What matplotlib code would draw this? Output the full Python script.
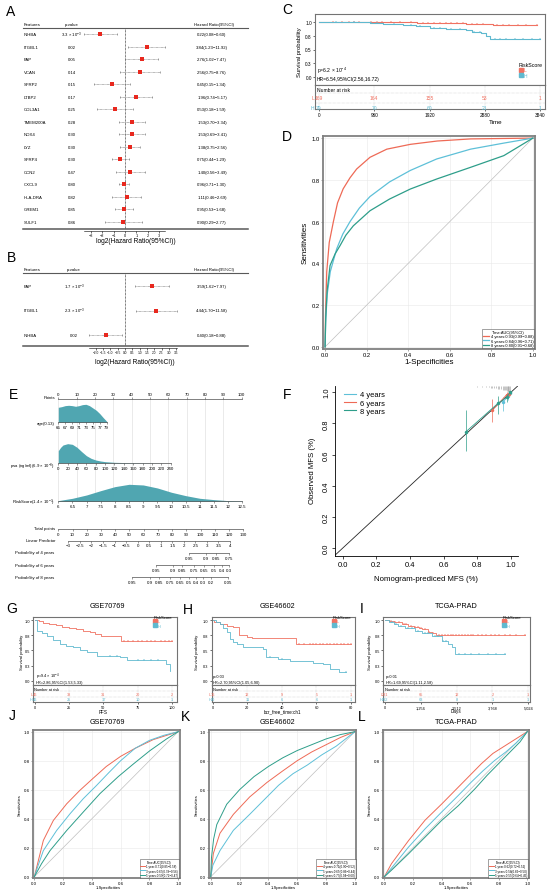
import numpy as np
import matplotlib
matplotlib.use('Agg')
import matplotlib.pyplot as plt
from matplotlib import transforms
from matplotlib.lines import Line2D

plt.rcParams['font.family'] = ['Liberation Sans', 'DejaVu Sans']
plt.rcParams['mathtext.fontset'] = 'custom'
plt.rcParams['mathtext.rm'] = 'Liberation Sans'
plt.rcParams['axes.linewidth'] = 0.5

# ---------------- data ----------------
# A: univariate cox
featA = ['INHBA', 'ITGBL1', 'FAP', 'VCAN', 'SFRP2', 'LTBP2', 'COL3A1', 'TMEM200A',
         'NOX4', 'LYZ', 'SFRP4', 'CCN2', 'CXCL9', 'HLA-DRA', 'GREM1', 'SULF1']
pA = [r'3.3 × 10$^{-3}$', '0.02', '0.05', '0.14', '0.15', '0.17', '0.25', '0.28',
      '0.30', '0.30', '0.30', '0.47', '0.80', '0.82', '0.85', '0.86']
hrA = [0.22, 3.84, 2.76, 2.56, 0.45, 1.96, 0.53, 1.53, 1.53, 1.38, 0.75, 1.40, 0.96, 1.11, 0.95, 0.90]
loA = [0.08, 1.23, 1.02, 0.75, 0.15, 0.74, 0.18, 0.70, 0.69, 0.75, 0.44, 0.56, 0.71, 0.46, 0.53, 0.29]
hiA = [0.60, 11.92, 7.47, 8.76, 1.34, 5.17, 1.59, 3.34, 3.41, 2.56, 1.29, 3.49, 1.30, 2.69, 1.68, 2.77]
ticksA = [-3, -2, -1, 0, 1, 2, 3]

# B: multivariate cox
featB = ['FAP', 'ITGBL1', 'INHBA']
pB = [r'1.7 × 10$^{-3}$', r'2.3 × 10$^{-3}$', '0.02']
hrB = [3.59, 4.44, 0.40]
loB = [1.62, 1.70, 0.18]
hiB = [7.97, 11.58, 0.88]
ticksB = [-2.0, -1.5, -1.0, -0.5, 0.0, 0.5, 1.0, 1.5, 2.0, 2.5, 3.0, 3.5]

# C: KM training set
C_L_t = [0, 880, 1700, 2560, 3030]
C_L_s = [1.0, 0.99, 0.982, 0.965, 0.945]
C_H_t = [0, 475, 880, 1110, 1460, 1690, 1925, 2215, 2560, 2650, 2820, 2910, 2970]
C_H_s = [1.0, 0.988, 0.976, 0.958, 0.94, 0.916, 0.892, 0.868, 0.85, 0.808, 0.79, 0.749, 0.689]
C_L_cens = [250, 400, 520, 600, 700, 900, 1000, 1100, 1250, 1400, 1600, 1800, 1900, 2000, 2100,
            2200, 2300, 2400, 2500, 2650, 2750, 2850, 3100, 3200, 3300, 3450, 3600, 3780]
C_H_cens = [300, 600, 900, 1000, 1300, 1600, 1750, 2000, 2100, 2300, 2450, 2700, 2800, 3050,
            3150, 3250, 3400, 3550, 3700, 3840]
C_ticks = [0, 960, 1920, 2880, 3840]
C_risk_L = [169, 164, 155, 53, 1]
C_risk_H = [79, 70, 60, 21, 1]

# D: ROC training set
D4_fpr = [0, 0.002, 0.008, 0.02, 0.04, 0.06, 0.087, 0.12, 0.152, 0.216, 0.297, 0.41, 0.54, 0.7, 1.0]
D4_tpr = [0, 0.15, 0.36, 0.50, 0.60, 0.69, 0.757, 0.81, 0.852, 0.908, 0.947, 0.97, 0.986, 0.996, 1.0]
D6_fpr = [0, 0.003, 0.01, 0.025, 0.056, 0.085, 0.12, 0.165, 0.216, 0.31, 0.41, 0.537, 0.70, 0.86, 1.0]
D6_tpr = [0, 0.12, 0.25, 0.36, 0.47, 0.54, 0.60, 0.665, 0.72, 0.79, 0.845, 0.90, 0.947, 0.976, 1.0]
D8_fpr = [0, 0.003, 0.01, 0.024, 0.048, 0.072, 0.10, 0.136, 0.216, 0.31, 0.41, 0.537, 0.70, 0.86, 1.0]
D8_tpr = [0, 0.14, 0.27, 0.39, 0.445, 0.485, 0.535, 0.58, 0.652, 0.708, 0.756, 0.804, 0.86, 0.916, 1.0]
D_labels = ['4 years:0.93(0.99−0.88)', '6 years:0.84(0.96−0.71)', '8 years:0.80(0.91−0.68)']

# E: nomogram
age_x = [65, 66, 67, 68, 69, 70, 71, 72, 73, 74, 75, 76, 77, 78, 79]
age_d = [45, 47, 50, 51, 50, 48, 50, 53, 54, 50, 43, 36, 26, 14, 3]
psa_x = [0, 5, 10, 20, 30, 40, 50, 60, 70, 80, 90, 100, 120, 150, 240]
psa_d = [37, 47, 54, 58, 56, 47, 34, 22, 14, 9, 6, 4, 2, 1, 0]
rs_x = [6, 6.5, 7, 7.5, 8, 8.5, 9, 9.5, 10, 10.5, 11, 11.5, 12, 12.5]
rs_d = [2, 9, 19, 32, 44, 51, 49, 40, 27, 17, 9, 5, 2, 1]
points_ticks = list(range(0, 101, 10))
age_ticks = [65, 67, 69, 71, 73, 75, 77, 79]
psa_ticks = list(range(0, 241, 20))
rs_ticks = [6, 6.5, 7, 7.5, 8, 8.5, 9, 9.5, 10, 10.5, 11, 11.5, 12, 12.5]
total_ticks = list(range(0, 131, 10))
lp_ticks = [-3, -2.5, -2, -1.5, -1, -0.5, 0, 0.5, 1, 1.5, 2, 2.5, 3, 3.5, 4]
p4_vals = ['0.95', '0.9', '0.85', '0.75']
p4_pos = [92, 104, 111, 120]
p6_vals = ['0.95', '0.9', '0.85', '0.75', '0.65', '0.5', '0.4', '0.3']
p6_pos = [68.4, 80.3, 86.9, 95.1, 102.6, 109.1, 114.8, 120.1]
p8_vals = ['0.95', '0.9', '0.85', '0.75', '0.65', '0.5', '0.4', '0.3', '0.2', '0.05']
p8_pos = [52, 64.2, 70.5, 78.5, 85.5, 91.6, 96.7, 101.9, 107, 119.4]

# F: calibration
F4_x = [0.95, 0.985, 0.997]
F4_y = [0.935, 0.975, 0.995]
F4_lo = [0.88, 0.95, 0.985]
F4_hi = [0.97, 0.995, 1.0]
F6_x = [0.89, 0.975, 0.99]
F6_y = [0.886, 0.985, 0.99]
F6_lo = [0.807, 0.96, 0.975]
F6_hi = [0.957, 1.0, 1.0]
F8_x = [0.733, 0.925, 0.975, 0.995]
F8_y = [0.747, 0.931, 0.967, 1.0]
F8_lo = [0.625, 0.86, 0.935, 0.99]
F8_hi = [0.888, 0.975, 0.99, 1.0]
rug_x = [0.70, 0.74, 0.78, 0.80, 0.83, 0.85, 0.87, 0.88, 0.89, 0.90, 0.91, 0.92, 0.93,
         0.94, 0.95, 0.96, 0.965, 0.97, 0.975, 0.98, 0.985, 0.99, 0.995]
rug_h = [0.005, 0.005, 0.005, 0.008, 0.008, 0.01, 0.01, 0.012, 0.012, 0.015, 0.015, 0.018,
         0.02, 0.022, 0.025, 0.028, 0.03, 0.03, 0.035, 0.035, 0.04, 0.04, 0.04]

# G/H/I: KM validation sets
G_L_t = [0, 3, 6, 10, 15, 20, 25, 30, 35, 40, 44, 48, 63]
G_L_s = [1.0, 0.978, 0.957, 0.935, 0.913, 0.89, 0.868, 0.846, 0.822, 0.80, 0.775, 0.745, 0.65]
G_H_t = [0, 1.7, 5, 8.5, 13, 18, 23, 28, 33, 38, 45, 62, 67, 91, 96, 99]
G_H_s = [1.0, 0.82, 0.78, 0.74, 0.67, 0.60, 0.57, 0.55, 0.51, 0.47, 0.40, 0.385, 0.34, 0.34, 0.27, 0.165]
G_L_cens = [65, 68, 72, 75, 78, 82, 85, 88, 92, 95, 98, 100]
G_H_cens = [55, 60, 75, 80, 85, 90]
G_ticks = [0, 25, 50, 75, 100]
G_risk_L = [46, 38, 31, 20, 2]
G_risk_H = [46, 25, 17, 10, 1]

H_L_t = [0, 0.5, 4, 8, 12, 15.3, 19.6, 23, 48.3]
H_L_s = [1.0, 0.96, 0.93, 0.91, 0.88, 0.76, 0.72, 0.70, 0.60]
H_H_t = [0, 2, 4.2, 6, 8.1, 10, 12, 13.8, 17.7, 29.2, 31.1, 38, 44.5, 57.9, 63.7, 68, 73.3]
H_H_s = [1.0, 0.96, 0.93, 0.87, 0.80, 0.69, 0.64, 0.60, 0.55, 0.52, 0.385, 0.36, 0.33, 0.30, 0.275, 0.20, 0.14]
H_L_cens = [50, 53, 56, 58, 60, 62, 64, 66, 68, 70, 72, 74, 76, 78, 80]
H_H_cens = [33, 40, 77]
H_ticks = [0, 20, 40, 60, 80]
H_risk_L = [16, 12, 9, 5, 1]
H_risk_H = [20, 11, 6, 6, 1]

I_L_t = [0, 150, 300, 450, 600, 800, 1000, 1200, 1300, 1500, 1650, 1800]
I_L_s = [1.0, 0.99, 0.97, 0.96, 0.93, 0.91, 0.89, 0.87, 0.85, 0.80, 0.78, 0.76]
I_H_t = [0, 150, 300, 467, 700, 1052, 1300, 1636, 1986, 2200, 2337, 2454]
I_H_s = [1.0, 0.97, 0.94, 0.91, 0.87, 0.82, 0.78, 0.74, 0.66, 0.60, 0.55, 0.44]
I_L_cens = [200, 350, 500, 650, 750, 900, 1050, 1150, 1250, 1400, 1550, 1700, 1900, 2000, 2100,
            2200, 2300, 2400, 2500, 2600, 2700, 2800, 2900, 3000, 3100, 3250, 3400, 3550, 3700,
            3850, 4000, 4200, 4400, 4600, 4900]
I_H_cens = [250, 400, 550, 800, 950, 1150, 1400, 1500, 1750, 1850, 2050, 2150, 2600, 2800,
            3000, 3300, 3600, 3900, 4206]
I_ticks = [0, 1256, 2512, 3768, 5024]
I_ticklabels = ['0', '1,256', '2,512', '3,768', '5,024']
I_risk_L = [231, 65, 12, 2, 1]
I_risk_H = [232, 63, 8, 1, 1]

# J/K/L: ROC validation sets
J1_fpr = [0, 0.02, 0.0625, 0.132, 0.225, 0.317, 0.41, 0.5, 0.6, 0.7, 0.826, 1.0]
J1_tpr = [0, 0.08, 0.25, 0.388, 0.503, 0.596, 0.68, 0.76, 0.83, 0.885, 0.945, 1.0]
J3_fpr = [0, 0.02, 0.0625, 0.155, 0.248, 0.34, 0.433, 0.52, 0.6, 0.7, 0.8, 0.9, 1.0]
J3_tpr = [0, 0.06, 0.18, 0.319, 0.434, 0.538, 0.63, 0.72, 0.80, 0.885, 0.94, 0.975, 1.0]
J5_fpr = [0, 0.05, 0.109, 0.225, 0.34, 0.456, 0.583, 0.688, 0.803, 0.919, 1.0]
J5_tpr = [0, 0.09, 0.18, 0.319, 0.446, 0.573, 0.69, 0.777, 0.869, 0.95, 1.0]
J_labels = ['1 year:0.71(0.85−0.58)', '3 years:0.67(0.78−0.56)', '5 years:0.59(0.72−0.47)']

K4_fpr = [0, 0.018, 0.064, 0.157, 0.27, 0.39, 0.5, 0.6, 0.7, 0.8, 0.9, 1.0]
K4_tpr = [0, 0.16, 0.30, 0.43, 0.55, 0.65, 0.73, 0.80, 0.86, 0.91, 0.96, 1.0]
K5_fpr = [0, 0.015, 0.064, 0.157, 0.27, 0.39, 0.47, 0.57, 0.67, 0.77, 0.87, 1.0]
K5_tpr = [0, 0.08, 0.18, 0.32, 0.43, 0.55, 0.63, 0.71, 0.77, 0.84, 0.90, 1.0]
K6_fpr = [0, 0.005, 0.02, 0.042, 0.111, 0.2, 0.3, 0.4, 0.5, 0.6, 0.7, 0.8, 0.9, 1.0]
K6_tpr = [0, 0.13, 0.26, 0.36, 0.50, 0.60, 0.69, 0.76, 0.82, 0.87, 0.91, 0.95, 0.98, 1.0]
K_labels = ['4 years:0.71(0.90−0.52)', '5 years:0.65(0.86−0.44)', '6 years:0.77(0.94−0.60)']

L1_fpr = [0, 0.05, 0.17, 0.285, 0.40, 0.52, 0.6, 0.68, 0.76, 0.84, 0.92, 1.0]
L1_tpr = [0, 0.09, 0.25, 0.39, 0.50, 0.62, 0.70, 0.78, 0.85, 0.90, 0.95, 1.0]
L3_fpr = [0, 0.05, 0.168, 0.285, 0.401, 0.518, 0.61, 0.69, 0.77, 0.85, 0.92, 1.0]
L3_tpr = [0, 0.06, 0.203, 0.33, 0.446, 0.561, 0.654, 0.73, 0.80, 0.86, 0.92, 1.0]
L5_fpr = [0, 0.05, 0.168, 0.285, 0.401, 0.518, 0.635, 0.72, 0.80, 0.88, 0.95, 1.0]
L5_tpr = [0, 0.045, 0.157, 0.273, 0.388, 0.49, 0.607, 0.70, 0.78, 0.86, 0.93, 1.0]
L_labels = ['1 year:0.62(0.72−0.52)', '3 years:0.58(0.66−0.50)', '5 years:0.55(0.64−0.45)']

RED = '#EE6A56'
BLUE = '#5EC0D8'
GREEN = '#2E9E8A'
TEAL = '#50A6B1'
KM_RED = '#F07262'
KM_BLUE = '#5FB9CF'

W, H = 550, 895
fig = plt.figure(figsize=(W / 100, H / 100), dpi=100)


def box(x0, y0, x1, y1):
    return fig.add_axes([x0 / W, 1 - y1 / H, (x1 - x0) / W, (y1 - y0) / H])


def label(x, y, s, **kw):
    kw.setdefault('ha', 'center')
    kw.setdefault('va', 'center')
    fig.text(x / W, 1 - y / H, s, **kw)


def forest(y_top, y_bot, row0, drow, head_y, hline_y, feats, pvals, hr, lo, hi,
           zero_px, unit_px, ticks, tick_fmt, p_x, xlab_xy, fs_tick):
    x0, x1 = 23, 248
    ax = box(x0, y_top, x1, y_bot)
    ax.set_xlim((x0 - zero_px) / unit_px, (x1 - zero_px) / unit_px)
    ybot = (y_bot - row0) / drow
    ax.set_ylim(ybot, (y_top - row0) / drow)
    rows = np.arange(len(feats))
    m, l, h = np.log2(hr), np.log2(lo), np.log2(hi)
    hl = (hline_y - row0) / drow
    hd = (head_y - row0) / drow
    ax.vlines(0, hl, ybot, colors='k', lw=0.5, linestyles=(0, (1, 1)))
    ax.hlines(rows, l, h, colors='0.45', lw=0.45, linestyles=(0, (1.2, 0.8)))
    ax.plot(l, rows, '|', color='0.45', ms=2, mew=0.45)
    ax.plot(h, rows, '|', color='0.45', ms=2, mew=0.45)
    ax.plot(m, rows, 's', color='#E8281E', ms=2.3, mew=0)
    ax.axhline(hl, color='0.35', lw=0.8, clip_on=False)
    ax.axhline(ybot, color='0.35', lw=1.1, clip_on=False)
    tr = transforms.blended_transform_factory(fig.transFigure, ax.transData)
    fs = 3.1
    ax.text(24 / W, hd, 'Features', transform=tr, fontsize=fs, va='center')
    ax.text(p_x / W, hd, 'p-value', transform=tr, fontsize=fs, va='center', ha='center')
    ax.text(214 / W, hd, 'Hazard Ratio(95%CI)', transform=tr, fontsize=fs, va='center', ha='center')
    for r, f, p, a, b, c in zip(rows, feats, pvals, hr, lo, hi):
        ax.text(24 / W, r, f, transform=tr, fontsize=fs, va='center')
        ax.text(p_x / W, r, p, transform=tr, fontsize=fs, va='center', ha='center')
        ax.text(212 / W, r, f'{a:.2f}({b:.2f}−{c:.2f})', transform=tr, fontsize=fs,
                va='center', ha='center')
    for s in ['left', 'right', 'top']:
        ax.spines[s].set_visible(False)
    ax.spines['bottom'].set_position(('outward', 1.5))
    ax.spines['bottom'].set_bounds(l.min(), h.max())
    ax.spines['bottom'].set_linewidth(0.4)
    ax.set_xticks(ticks)
    ax.set_xticklabels([format(t, tick_fmt).replace('-', '−') for t in ticks], fontsize=fs_tick)
    ax.set_yticks([])
    ax.tick_params(axis='x', length=1.2, width=0.4, pad=0.5)
    ax.patch.set_visible(False)
    label(xlab_xy[0], xlab_xy[1], 'log2(Hazard Ratio(95%CI))', fontsize=4.8)


def km(plot_px, tab_px, xlim, ylim, tL, sL, endL, tH, sH, endH, cL, cH, xticks, xticklabels,
       riskL, riskH, ptxt, hrtxt, txt_px, leg_px, rows, seps, fs, fs_tick, lw,
       ylab_px, xlab, xlab_px, fs_lab):
    ax = box(*plot_px)
    for t, s, end, cens, col in [(tL, sL, endL, cL, KM_RED), (tH, sH, endH, cH, KM_BLUE)]:
        t = np.asarray(t, float)
        s = np.asarray(s, float)
        ax.step(np.append(t, end), np.append(s, s[-1]), where='post', color=col, lw=lw)
        idx = np.searchsorted(t, cens, side='right') - 1
        ax.plot(cens, s[idx], '+', color=col, ms=fs * 0.55, mew=0.3)
    ax.set_xlim(xlim)
    ax.set_ylim(ylim)
    ax.set_xticks([])
    ax.set_yticks([0, 0.25, 0.5, 0.75, 1.0])
    ax.set_yticklabels(['0.0', '0.3', '0.5', '0.8', '1.0'], fontsize=fs_tick)
    ax.tick_params(length=1.5, width=0.4, pad=0.8)
    for sp in ax.spines.values():
        sp.set_color('0.45')
        sp.set_linewidth(0.8)
    ax.text((txt_px[0] - plot_px[0]) / (plot_px[2] - plot_px[0]),
            (plot_px[3] - txt_px[1]) / (plot_px[3] - plot_px[1]), ptxt,
            transform=ax.transAxes, fontsize=fs, va='center')
    ax.text((txt_px[0] - plot_px[0]) / (plot_px[2] - plot_px[0]),
            (plot_px[3] - txt_px[2]) / (plot_px[3] - plot_px[1]), hrtxt,
            transform=ax.transAxes, fontsize=fs, va='center')
    handles = [Line2D([], [], marker='s', ls='none', color=KM_RED, ms=fs * 0.8),
               Line2D([], [], marker='s', ls='none', color=KM_BLUE, ms=fs * 0.8)]
    leg = ax.legend(handles, ['L', 'H'], title='RiskScore', loc='upper left',
                    bbox_to_anchor=(leg_px[0] / W, 1 - leg_px[1] / H),
                    bbox_transform=fig.transFigure, fontsize=fs, title_fontsize=fs * 1.05,
                    frameon=False, handlelength=0.6, handletextpad=0.3, labelspacing=0.1,
                    borderpad=0, borderaxespad=0, alignment='left')
    for txt, col in zip(leg.get_texts(), [KM_RED, KM_BLUE]):
        txt.set_color(col)

    tab = box(*tab_px)
    tab.set_xlim(xlim)
    tab.set_ylim(1, 0)
    tab.set_yticks([])
    tab.set_xticks(xticks)
    tab.set_xticklabels(xticklabels, fontsize=fs_tick)
    tab.tick_params(length=1.5, width=0.4, pad=0.8)
    for sp in tab.spines.values():
        sp.set_color('0.45')
        sp.set_linewidth(0.8)
    tab.vlines(xticks, 0, 1, colors='0.7', lw=0.35, linestyles=':')
    for sy in seps:
        tab.axhline(sy, color='0.7', lw=0.35, ls=':')
    trb = transforms.blended_transform_factory(tab.transAxes, tab.transData)
    tab.text(0.01, rows[0], 'Number at risk', transform=trb, fontsize=fs, va='center')
    for name, risk, yr, col in [('L', riskL, rows[1], KM_RED), ('H', riskH, rows[2], KM_BLUE)]:
        tab.text(-0.004, yr, name, transform=trb, fontsize=fs, va='center', ha='right', color=col)
        for xt, n in zip(xticks, risk):
            tab.text(xt, yr, str(n), fontsize=fs, va='center', ha='center', color=col)
    label(ylab_px[0], ylab_px[1], 'Survival probability', fontsize=fs_lab, rotation=90)
    label(xlab_px[0], xlab_px[1], xlab, fontsize=fs_lab * 1.08)


def roc(px, curves, colors, labels, fs_tick, fs_leg, lw, ylab_px, xlab_px, fs_lab):
    ax = box(*px)
    ax.plot([0, 1], [0, 1], color='0.75', lw=0.5)
    for (f, t), c, lb in zip(curves, colors, labels):
        ax.plot(f, t, color=c, lw=lw, label=lb)
    ax.set_xlim(-0.01, 1.01)
    ax.set_ylim(-0.01, 1.01)
    ax.set_xticks([0, 0.2, 0.4, 0.6, 0.8, 1.0])
    ax.set_yticks([0, 0.2, 0.4, 0.6, 0.8, 1.0])
    ax.set_xticklabels(['0.0', '0.2', '0.4', '0.6', '0.8', '1.0'], fontsize=fs_tick)
    ax.set_yticklabels(['0.0', '0.2', '0.4', '0.6', '0.8', '1.0'], fontsize=fs_tick)
    ax.tick_params(length=1.5, width=0.4, pad=0.8, color='0.4')
    ax.grid(color='0.91', lw=0.4)
    ax.set_axisbelow(True)
    for sp in ax.spines.values():
        sp.set_color('0.5')
        sp.set_linewidth(1.3)
    leg = ax.legend(title='Time:AUC(95%CI)', loc='lower right', fontsize=fs_leg,
                    title_fontsize=fs_leg, frameon=True, fancybox=False, edgecolor='0.2',
                    borderpad=0.25, handlelength=1.6, handletextpad=0.4, labelspacing=0.15,
                    borderaxespad=0.15)
    leg.get_frame().set_linewidth(0.4)
    label(ylab_px[0], ylab_px[1], 'Sensitivities', fontsize=fs_lab, rotation=90)
    label(xlab_px[0], xlab_px[1], '1-Specificities', fontsize=fs_lab)


# ---------------- A & B ----------------
forest(20, 230, 35, 12.53, 25, 29, featA, pA, hrA, loA, hiA, 125, 11.3, ticksA, 'g',
       71.7, (136, 241.5), 2.8)
forest(265, 347, 287, 24.5, 270, 274, featB, pB, hrB, loB, hiB, 125, 14.6, ticksB, '.1f',
       74, (135, 362), 2.3)

# ---------------- C ----------------
km((315, 15, 545, 86), (315, 86, 545, 110), (-70, 3927), (-0.14, 1.14),
   C_L_t, C_L_s, 3780, C_H_t, C_H_s, 3840, C_L_cens, C_H_cens, C_ticks,
   [str(t) for t in C_ticks], C_risk_L, C_risk_H,
   r'p=6.2 × 10$^{-4}$', 'HR=6.54,95%CI(2.56,16.72)', (317, 71, 80), (519, 63),
   (0.17, 0.54, 0.92), (0.33, 0.73), 3.6, 3.4, 0.8, (300, 52), 'Time', (496, 123), 4.2)

# ---------------- D ----------------
roc((323, 137, 535, 350), [(D4_fpr, D4_tpr), (D6_fpr, D6_tpr), (D8_fpr, D8_tpr)],
    [RED, BLUE, GREEN], D_labels, 4.2, 2.9, 0.9, (305, 243), (429, 362), 5.8)


# ---------------- E nomogram ----------------
def nomo_axis(y, x0, x1, lim, ticks, labels, side='bottom'):
    if side == 'bottom':
        ax = box(x0, y - 1, x1, y)
    else:
        ax = box(x0, y, x1, y + 1)
    ax.set_xlim(lim)
    ax.set_ylim(0, 1)
    for s in ['left', 'right', 'top', 'bottom']:
        ax.spines[s].set_visible(False)
    ax.spines[side].set_visible(True)
    ax.spines[side].set_linewidth(0.5)
    ax.spines[side].set_color('0.3')
    ax.spines[side].set_bounds(ticks[0], ticks[-1])
    ax.set_yticks([])
    ax.xaxis.set_ticks_position(side)
    ax.set_xticks(ticks)
    ax.set_xticklabels(labels, fontsize=3.2)
    ax.tick_params(axis='x', length=1.5, width=0.4, pad=0.6, color='0.3')
    ax.patch.set_visible(False)
    return ax


def density(ybase, x0, x1, lim, xs, ds):
    ax = box(x0, ybase - 20, x1, ybase)
    ax.fill_between(xs, 0, ds, color=TEAL, lw=0)
    ax.set_xlim(lim)
    ax.set_ylim(0, 60)
    ax.axis('off')


grid = box(58.3, 400, 241.7, 502.3)
grid.set_xlim(0, 100)
grid.vlines(points_ticks, 0, 1, colors='0.86', lw=0.4)
grid.set_ylim(0, 1)
grid.axis('off')

nomo_axis(400, 58.3, 241.7, (0, 100), points_ticks, [str(t) for t in points_ticks], 'top')
density(423.3, 58.3, 106.7, (65, 79), age_x, age_d)
nomo_axis(423.3, 58.3, 106.7, (65, 79), age_ticks, [str(t) for t in age_ticks])
density(464, 58.3, 170.7, (0, 240), psa_x, psa_d)
nomo_axis(464, 58.3, 170.7, (0, 240), psa_ticks, [str(t) for t in psa_ticks])
density(502.3, 58.3, 242.3, (6, 12.5), rs_x, rs_d)
nomo_axis(502.3, 58.3, 242.3, (6, 12.5), rs_ticks, [f'{t:g}' for t in rs_ticks])
nomo_axis(530, 58.3, 243.3, (0, 130), total_ticks, [str(t) for t in total_ticks])
nomo_axis(541.5, 68.3, 230, (-3, 4), lp_ticks, [f'{t:g}'.replace('-', '−') for t in lp_ticks])
nomo_axis(553.7, 58.3, 243.3, (0, 130), p4_pos, p4_vals)
nomo_axis(566, 58.3, 243.3, (0, 130), p6_pos, p6_vals)
nomo_axis(578.3, 58.3, 243.3, (0, 130), p8_pos, p8_vals)

efs = 3.1
label(55, 398, 'Points', fontsize=efs, ha='right')
label(55, 424, 'age(0.13)', fontsize=efs, ha='right')
label(55, 467, r'psa (ng/ml)(6.9 × 10$^{-3}$)', fontsize=efs, ha='right')
label(55, 503, r'RiskScore(1.4 × 10$^{-3}$)', fontsize=efs, ha='right')
label(55, 529.3, 'Total points', fontsize=efs, ha='right')
label(55, 541, 'Linear Predictor', fontsize=efs, ha='right')
label(15, 553.3, 'Probability of 4 years', fontsize=efs, ha='left')
label(15, 566, 'Probability of 6 years', fontsize=efs, ha='left')
label(15, 578.3, 'Probability of 8 years', fontsize=efs, ha='left')

# ---------------- F calibration ----------------
axF = box(335, 386.7, 517.7, 556.7)
axF.set_xlim(-0.046, 1.04)
axF.set_ylim(-0.049, 1.042)
axF.axline((0, 0), (1, 1), color='0.15', lw=0.6)
axF.vlines(rug_x, 1.042 - np.asarray(rug_h), 1.042, colors='0.6', lw=0.4)
for xs, ys, lo, hi, col, lb in [(F4_x, F4_y, F4_lo, F4_hi, BLUE, '4 years'),
                                (F6_x, F6_y, F6_lo, F6_hi, RED, '6 years'),
                                (F8_x, F8_y, F8_lo, F8_hi, GREEN, '8 years')]:
    axF.vlines(xs, lo, hi, colors=col, lw=0.5)
    axF.plot(xs, ys, '-o', color=col, lw=0.6, ms=2.5, mew=0, label=lb)
axF.legend(handles=[Line2D([], [], color=BLUE, lw=0.8), Line2D([], [], color=RED, lw=0.8),
                    Line2D([], [], color=GREEN, lw=0.8)],
           labels=['4 years', '6 years', '8 years'], loc='upper left', fontsize=5.4,
           frameon=False, handlelength=1.6, handletextpad=0.6, labelspacing=0.15,
           borderaxespad=0.3, bbox_to_anchor=(0.02, 1.0))
for s in ['top', 'right']:
    axF.spines[s].set_visible(False)
for s in ['left', 'bottom']:
    axF.spines[s].set_linewidth(0.6)
fticks = [0, 0.2, 0.4, 0.6, 0.8, 1.0]
axF.set_xticks(fticks)
axF.set_yticks(fticks)
axF.set_xticklabels([f'{t:.1f}' for t in fticks], fontsize=5.4)
axF.set_yticklabels([f'{t:.1f}' for t in fticks], fontsize=5.4, rotation=90, va='center')
axF.tick_params(length=2, width=0.5, pad=1.5)
label(426, 580, 'Nomogram-prediced MFS (%)', fontsize=5.6)
label(312, 471, 'Observed MFS (%)', fontsize=5.6, rotation=90)

# ---------------- G / H / I ----------------
km_rows = (0.235, 0.53, 0.82)
km_seps = (0.38, 0.68)
km((33, 618, 177, 686), (33, 686, 177, 703), (-1.5, 103.9), (-0.07, 1.05),
   G_L_t, G_L_s, 100, G_H_t, G_H_s, 99, G_L_cens, G_H_cens, G_ticks,
   [str(t) for t in G_ticks], G_risk_L, G_risk_H,
   r'p=9.4 × 10$^{-4}$', 'HR=2.86,95%CI(1.53,5.33)', (36, 677, 683), (154, 616),
   km_rows, km_seps, 2.8, 2.8, 0.6, (21.7, 652), 'PFS', (103, 712), 3.1)
km((211.7, 618, 355, 686), (211.7, 686, 355, 703), (-0.6, 82.3), (-0.07, 1.05),
   H_L_t, H_L_s, 80, H_H_t, H_H_s, 77, H_L_cens, H_H_cens, H_ticks,
   [str(t) for t in H_ticks], H_risk_L, H_risk_H,
   'p=0.03', 'HR=2.70,95%CI(1.05,6.90)', (212.5, 677, 683), (333, 616),
   km_rows, km_seps, 2.8, 2.8, 0.6, (197, 652), 'bcr_free_time:ch1', (283, 712), 3.1)
km((383.3, 618, 530, 686), (383.3, 686, 530, 703), (-60, 5085), (-0.07, 1.05),
   I_L_t, I_L_s, 4900, I_H_t, I_H_s, 4206, I_L_cens, I_H_cens, I_ticks,
   I_ticklabels, I_risk_L, I_risk_H,
   'p=0.01', 'HR=1.69,95%CI(1.11,2.58)', (385.5, 677, 683), (503, 616),
   km_rows, km_seps, 2.8, 2.8, 0.6, (370, 652), 'Days', (456, 712), 3.1)

# ---------------- J / K / L ----------------
roc((32.9, 731.2, 179.7, 879.2), [(J1_fpr, J1_tpr), (J3_fpr, J3_tpr), (J5_fpr, J5_tpr)],
    [RED, BLUE, GREEN], J_labels, 3.2, 2.2, 0.7, (20, 805), (108, 888.5), 3.0)
roc((209.3, 731.2, 356.4, 879.2), [(K4_fpr, K4_tpr), (K5_fpr, K5_tpr), (K6_fpr, K6_tpr)],
    [RED, BLUE, GREEN], K_labels, 3.2, 2.2, 0.7, (196.7, 805), (283, 888.5), 3.0)
roc((382.9, 731.2, 528.7, 879.2), [(L1_fpr, L1_tpr), (L3_fpr, L3_tpr), (L5_fpr, L5_tpr)],
    [RED, BLUE, GREEN], L_labels, 3.2, 2.2, 0.7, (370, 805), (456.7, 888.5), 3.0)

# titles
for x, y, s in [(107, 607, 'GSE70769'), (277, 607, 'GSE46602'), (456, 607, 'TCGA-PRAD'),
                (107, 723, 'GSE70769'), (277, 723, 'GSE46602'), (456, 723, 'TCGA-PRAD')]:
    label(x, y, s, fontsize=5.2)

# panel letters
for x, y, s in [(11, 12, 'A'), (11, 258, 'B'), (287, 10, 'C'), (287, 137, 'D'),
                (13, 395, 'E'), (287, 395, 'F'), (12, 609, 'G'), (188, 610, 'H'),
                (362, 609, 'I'), (12, 716, 'J'), (186, 717, 'K'), (362, 717, 'L')]:
    label(x, y, s, fontsize=10)

fig.savefig('out.png', dpi=100)
